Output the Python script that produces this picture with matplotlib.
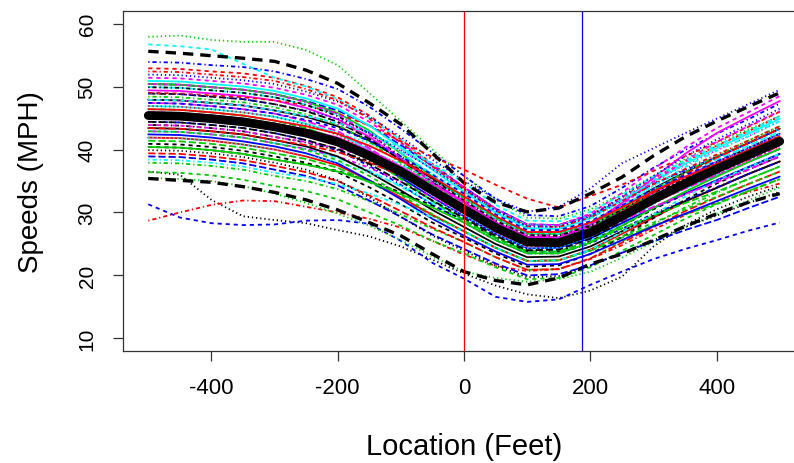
import matplotlib
matplotlib.use("Agg")
import matplotlib.pyplot as plt

plt.rcParams['font.family'] = ['Liberation Sans', 'DejaVu Sans']
plt.rcParams['lines.scale_dashes'] = False

# ---- data (read / estimated from the reference picture) ----
locations = [-500, -450, -400, -350, -300, -250, -200, -150, -100, -50, 0,
             50, 100, 150, 200, 250, 300, 350, 400, 450, 500]

run01 = [47.9,47.8,47.4,47.0,46.2,45.2,43.7,41.4,38.5,35.4,32.3,29.1,26.7,26.6,28.2,30.9,33.8,36.4,38.8,41.0,43.3]
run02 = [52.9,52.8,52.4,52.1,51.4,50.1,48.3,45.4,41.6,37.7,34.0,30.6,28.1,28.0,29.6,32.4,35.4,38.1,40.6,42.9,45.3]
run03 = [57.9,58.1,57.4,57.1,57.1,55.8,53.4,49.0,44.5,40.0,35.8,32.0,29.2,29.0,30.5,33.0,35.8,38.5,41.0,43.2,45.3]
run04 = [53.9,53.8,53.4,53.1,52.4,51.2,49.6,46.8,43.3,39.5,35.8,32.2,29.6,29.4,31.0,33.9,37.1,39.9,42.5,44.8,47.3]
run05 = [42.9,42.8,42.4,41.9,41.0,40.1,38.7,36.6,34.1,31.4,28.8,26.0,23.8,23.8,25.5,28.4,31.4,34.3,36.8,39.1,41.3]
run06 = [49.4,49.3,48.9,48.5,47.8,46.6,44.8,42.0,38.5,34.9,31.6,28.4,26.1,26.0,27.6,30.3,33.1,35.7,38.0,40.2,42.5]
run07 = [40.4,40.3,39.9,39.3,38.4,37.6,36.6,35.0,33.2,31.1,28.8,26.0,23.8,23.8,25.4,27.9,30.5,32.9,35.1,37.2,39.3]
run08 = [45.4,45.3,44.9,44.4,43.6,42.7,41.6,39.8,37.6,35.1,32.3,29.1,26.7,26.6,28.3,31.4,34.7,37.8,40.5,42.9,45.3]
run09 = [37.9,37.8,37.4,36.8,35.8,35.0,33.7,31.8,29.7,27.4,25.3,22.9,20.9,21.0,22.7,25.4,28.1,30.8,33.1,35.3,37.3]
run10 = [50.4,50.3,49.9,49.5,48.8,47.7,46.2,43.8,40.7,37.4,34.0,30.6,28.1,28.0,29.5,32.0,34.5,36.7,38.8,41.0,43.3]
run11 = [46.9,46.8,46.4,45.9,45.2,44.1,42.5,39.9,36.8,33.6,30.5,27.5,25.2,25.2,26.7,29.1,31.6,33.8,35.9,38.0,40.1]
run12 = [51.4,51.3,50.9,50.5,49.8,48.7,47.1,44.4,41.1,37.5,34.0,30.6,28.1,28.0,29.8,33.1,36.9,40.3,43.4,45.9,48.5]
run13 = [36.5,36.0,32.0,29.4,28.8,28.3,27.2,26.2,24.6,22.5,20.3,18.4,17.0,16.4,17.6,19.8,24.6,28.0,30.5,32.5,34.2]
run14 = [28.7,30.0,31.2,31.9,31.8,30.9,30.0,29.0,27.6,25.5,23.3,21.5,20.7,21.0,22.6,24.8,27.3,29.6,31.6,33.2,34.6]
run15 = [41.4,41.3,40.9,40.3,39.4,38.5,37.1,34.8,32.3,29.5,27.0,24.4,22.3,22.4,23.9,26.0,27.9,29.7,31.4,33.4,35.3]
run16 = [45.4,45.3,44.9,44.4,43.6,42.5,41.0,38.5,35.5,32.4,29.4,26.6,24.3,24.4,25.9,28.3,30.7,33.0,35.1,37.2,39.3]
run17 = [56.7,56.4,55.9,53.6,51.4,50.0,48.0,45.0,41.5,37.5,33.6,30.4,28.0,27.9,29.5,32.2,35.2,38.0,40.6,42.8,45.0]
run18 = [47.9,47.8,47.4,47.0,46.2,45.3,44.1,42.2,39.8,37.1,34.0,30.6,28.1,28.0,29.5,32.2,35.0,37.5,39.9,42.1,44.5]
run19 = [43.9,43.8,43.4,42.9,42.0,41.1,39.9,38.1,35.8,33.2,30.5,27.5,25.2,25.2,26.9,29.7,32.6,35.4,38.0,40.2,42.5]
run20 = [39.4,39.3,38.9,38.3,37.4,36.4,35.0,32.7,30.2,27.6,25.3,22.9,20.9,21.0,22.7,25.2,27.7,30.2,32.4,34.5,36.5]
run21 = [50.4,50.3,49.9,49.5,48.8,47.6,45.8,43.0,39.4,35.7,32.3,29.1,26.7,26.6,28.1,30.5,32.8,35.0,37.0,39.1,41.3]
run22 = [31.3,29.2,28.3,28.0,28.1,28.7,28.8,28.2,25.5,22.0,19.5,16.6,15.8,16.2,18.5,20.6,22.6,24.2,25.6,27.1,28.4]
run23 = [46.4,46.3,45.9,45.4,44.6,43.8,42.7,41.0,38.8,36.2,33.3,30.0,27.5,27.4,29.0,31.5,34.2,36.6,38.8,41.0,43.3]
run24 = [42.9,42.8,42.4,41.9,41.0,40.1,38.9,37.1,34.9,32.4,29.8,26.9,24.6,24.6,26.4,29.2,32.2,35.0,37.6,39.9,42.1]
run25 = [48.9,48.8,48.4,48.0,47.2,46.1,44.4,41.7,38.3,34.8,31.6,28.4,26.1,26.0,27.6,30.0,32.5,34.8,37.0,39.1,41.3]
run26 = [41.9,41.8,41.4,40.8,40.0,38.9,37.5,35.1,32.4,29.6,27.0,24.4,22.3,22.4,24.1,26.6,29.2,31.7,33.9,36.1,38.1]
run27 = [36.4,36.3,35.9,35.2,34.2,33.4,32.1,30.0,27.9,25.5,23.5,21.3,19.4,19.6,21.3,23.9,26.4,29.0,31.3,33.4,35.3]
run28 = [51.9,51.8,51.4,51.0,50.4,49.2,47.6,45.2,42.0,38.4,35.0,32.2,30.1,30.9,33.8,37.8,40.2,42.6,44.9,47.2,49.5]
run29 = [45.4,45.3,44.9,44.4,43.6,42.7,41.6,39.8,37.6,35.1,32.3,29.1,26.7,26.6,28.3,31.2,34.3,37.2,39.8,42.1,44.5]
run30 = [47.4,47.3,46.9,46.4,45.7,44.5,42.9,40.2,37.0,33.6,30.5,27.5,25.2,25.2,26.7,29.1,31.6,33.8,35.9,38.0,40.1]
run31 = [43.4,43.3,42.9,42.4,41.5,40.5,38.9,36.4,33.5,30.4,27.7,25.0,22.9,23.0,24.6,27.0,29.5,31.8,33.9,36.1,38.1]
run32 = [49.0,48.9,48.6,48.3,47.8,47.0,45.7,43.8,41.3,38.8,36.8,34.4,32.2,30.8,32.6,34.4,36.6,38.9,41.2,43.6,46.0]
run33 = [35.5,35.3,35.0,34.2,33.0,31.5,29.8,27.9,25.6,23.0,20.6,19.6,19.0,19.4,20.6,22.8,25.3,27.6,29.8,31.9,34.0]
run34 = [44.4,44.3,43.9,43.4,42.6,41.5,39.9,37.4,34.4,31.2,28.4,25.6,23.5,23.5,25.1,27.4,29.8,31.9,34.0,36.1,38.1]
run35 = [49.9,49.8,49.4,49.0,48.3,47.1,45.5,42.8,39.5,36.0,32.6,29.4,26.9,26.9,28.4,31.0,33.7,36.1,38.4,40.6,42.9]
run36 = [45.9,45.8,45.4,44.9,44.1,43.2,41.9,39.8,37.3,34.5,31.6,28.4,26.1,26.0,28.0,31.5,35.5,39.3,42.6,45.2,47.7]
run37 = [40.9,40.8,40.4,39.8,38.9,37.9,36.4,34.0,31.3,28.4,26.0,23.5,21.4,21.6,23.4,26.1,29.1,32.0,34.6,36.8,38.9]
run38 = [46.9,46.8,46.4,45.9,45.2,44.0,42.3,39.6,36.3,32.9,29.8,26.9,24.6,24.6,26.2,28.8,31.4,33.9,36.2,38.3,40.5]
run39 = [48.4,48.3,47.9,47.5,46.7,45.6,43.9,41.2,37.9,34.4,31.2,28.1,25.8,25.8,27.5,30.4,33.5,36.4,39.0,41.4,43.7]
run40 = [38.9,38.8,38.4,37.8,36.8,35.8,34.3,31.9,29.3,26.5,24.2,21.9,20.0,20.2,21.6,23.6,25.4,27.2,28.8,30.7,32.5]
run41 = [50.9,50.8,50.4,50.0,49.3,48.1,46.5,43.8,40.3,36.8,33.3,30.0,27.5,27.4,29.1,31.9,34.9,37.7,40.2,42.5,44.9]
run42 = [43.9,43.8,43.4,42.9,42.0,41.2,40.2,38.7,36.8,34.6,31.9,28.7,26.4,26.3,28.1,31.3,34.9,38.2,41.2,43.7,46.1]
run43 = [39.9,39.8,39.4,38.8,37.9,36.8,35.1,32.4,29.3,26.3,23.9,21.6,19.7,19.9,21.5,23.6,25.6,27.7,29.5,31.5,33.3]
run44 = [52.4,52.3,51.9,51.5,50.9,49.6,47.8,44.9,41.1,37.3,33.7,30.3,27.8,27.7,29.2,31.8,34.5,36.9,39.2,41.4,43.7]
run45 = [46.4,46.3,45.9,45.4,44.6,43.4,41.7,38.8,35.3,31.8,28.8,26.0,23.8,23.8,25.3,27.5,29.5,31.5,33.3,35.3,37.3]
run46 = [42.4,42.3,41.9,41.3,40.5,39.4,37.8,35.1,32.1,29.0,26.3,23.8,21.7,21.8,23.4,25.6,27.8,29.8,31.8,33.8,35.7]
run47 = [47.9,47.8,47.4,47.0,46.2,45.3,44.2,42.6,40.3,37.8,34.7,31.2,28.7,28.6,30.1,32.8,35.7,38.2,40.6,42.9,45.3]
run48 = [44.9,44.8,44.4,43.9,43.1,42.2,40.9,39.0,36.7,34.0,31.2,28.1,25.8,25.8,27.3,29.9,32.6,35.0,37.3,39.5,41.7]
run49 = [49.9,49.8,49.4,49.0,48.3,47.1,45.3,42.5,38.9,35.3,31.9,28.7,26.4,26.3,27.9,30.4,33.1,35.4,37.7,39.9,42.1]
run50 = [43.4,43.3,42.9,42.4,41.5,40.7,39.6,37.9,35.9,33.5,30.9,27.8,25.5,25.5,27.2,30.1,33.2,36.1,38.7,41.0,43.3]
run51 = [40.4,40.3,39.9,39.3,38.4,37.6,36.5,34.9,32.9,30.8,28.4,25.6,23.5,23.5,25.2,27.9,30.7,33.3,35.7,38.0,40.1]
run52 = [47.4,47.3,46.9,46.4,45.7,44.7,43.4,41.4,38.9,36.0,33.0,29.7,27.2,27.2,28.6,31.1,33.7,35.9,38.1,40.2,42.5]
run53 = [41.9,41.8,41.4,40.8,40.0,39.1,38.0,36.3,34.3,32.0,29.5,26.6,24.3,24.4,26.1,29.0,32.2,35.2,37.9,40.2,42.5]
run54 = [50.4,50.3,49.9,49.5,48.8,47.5,45.6,42.5,38.6,34.7,31.2,28.1,25.8,25.8,27.2,29.6,32.0,34.2,36.2,38.3,40.5]
run55 = [44.4,44.3,43.9,43.4,42.6,41.5,40.1,37.7,34.9,31.9,29.1,26.3,24.0,24.1,25.8,28.6,31.5,34.3,36.8,39.1,41.3]
run56 = [46.4,46.3,45.9,45.4,44.6,43.7,42.5,40.6,38.2,35.6,32.6,29.4,26.9,26.9,28.4,30.8,33.4,35.6,37.7,39.9,42.1]
run57 = [42.9,42.8,42.4,41.9,41.0,39.9,38.3,35.8,32.8,29.7,27.0,24.4,22.3,22.4,24.0,26.2,28.4,30.5,32.5,34.5,36.5]
run58 = [48.9,48.8,48.4,48.0,47.2,46.2,44.9,42.7,39.9,36.9,33.7,30.3,27.8,27.7,29.4,32.5,35.8,38.9,41.6,44.0,46.5]
run59 = [38.4,38.3,37.9,37.3,36.3,35.6,34.5,33.0,31.2,29.2,27.0,24.4,22.3,22.4,24.1,26.9,29.7,32.5,35.0,37.2,39.3]
run60 = [45.9,45.8,45.4,44.9,44.1,43.1,41.6,39.1,36.2,33.1,30.2,27.2,24.9,24.9,26.4,28.7,30.9,32.9,34.8,36.8,38.9]

runs = [run01, run02, run03, run04, run05, run06, run07, run08, run09, run10,
        run11, run12, run13, run14, run15, run16, run17, run18, run19, run20,
        run21, run22, run23, run24, run25, run26, run27, run28, run29, run30,
        run31, run32, run33, run34, run35, run36, run37, run38, run39, run40,
        run41, run42, run43, run44, run45, run46, run47, run48, run49, run50,
        run51, run52, run53, run54, run55, run56, run57, run58, run59, run60]

mean_speed = [45.4,45.3,44.9,44.4,43.6,42.6,41.2,39.0,36.5,33.5,30.5,27.6,25.3,25.2,26.8,29.4,32.1,34.6,36.9,39.1,41.3]
upper_band = [55.6,55.3,54.9,54.5,54.0,52.6,50.5,47.4,44.0,39.4,34.7,31.6,30.1,30.7,33.0,35.6,39.0,42.0,44.5,46.8,49.0]
lower_band = [35.4,35.1,34.8,34.1,33.2,32.0,30.4,28.4,26.3,23.4,20.6,19.2,18.5,19.6,21.8,23.4,25.6,27.8,29.8,31.6,33.0]

stop_line = 0
end_line = 187

yticks = [10, 20, 30, 40, 50, 60]
xticks = [-400, -200, 0, 200, 400]

# ---- styles (R matplot defaults: col = 1:6, lty = 1:5) ----
palette = ['#000000', '#FF0000', '#00CD00', '#0000FF', '#00FFFF', '#FF00FF']
ltys = ['-', (0, (3.0, 2.8)), (0, (0.9, 2.1)), (0, (0.9, 2.1, 3.0, 2.1)), (0, (5.2, 2.1))]

W, H = 794, 464
fig = plt.figure(figsize=(W / 100, H / 100), dpi=100)
ax = fig.add_axes([123 / W, (H - 352) / H, (805 - 123) / W, (352 - 12) / H])

for j, r in enumerate(runs):
    ax.plot(locations, r, color=palette[j % 6], linestyle=ltys[j % 5], lw=1.3,
            solid_capstyle='round', solid_joinstyle='round')

ax.plot(locations, mean_speed, color='black', lw=6.3, solid_capstyle='round',
        solid_joinstyle='round')
for band in (upper_band, lower_band):
    ax.plot(locations, band, color='black', lw=2.4, linestyle=(0, (7.5, 5.0)))

ax.axvline(stop_line, color='#FF0000', lw=0.9)
ax.axvline(end_line, color='#0000FF', lw=0.9)

ax.set_xlim(-540, 540)
ax.set_ylim(8, 62)
ax.set_xticks(xticks)
ax.set_yticks(yticks)
ax.set_xticklabels([str(t) for t in xticks], fontsize=16)
ax.set_yticklabels([str(t) for t in yticks], fontsize=15, rotation=90, va='center')
ax.tick_params(axis='both', direction='out', length=7, width=0.9, color='#333333')
ax.tick_params(axis='x', pad=12)
ax.tick_params(axis='y', pad=12)
for s in ax.spines.values():
    s.set_linewidth(0.9)
    s.set_color('#333333')

ax.set_xlabel('Location (Feet)', fontsize=21, labelpad=24)
ax.set_ylabel('Speeds (MPH)', fontsize=20, labelpad=24)

fig.savefig('out.png', dpi=100)
